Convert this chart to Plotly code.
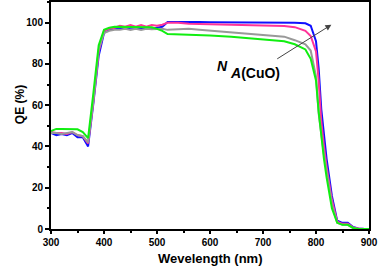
import plotly.graph_objects as go

wavelength = [300,310,320,330,340,350,360,370,380,390,400,410,420,430,440,450,460,470,480,490,500,510,520,540,560,580,600,640,680,720,740,760,780,790,800,805,810,815,820,830,840,850,860,870,880,890,900]

qe_blue = [46.5,45.5,46,45.5,46.5,44.5,44.5,40,61,84,95,96.5,97,97.5,97,97.5,97.5,97,97.5,97,97.5,98,100.3,100.4,100.3,100.3,100.2,100.2,100.1,100,100,99.9,99.7,98.5,91,78,58,45,34,16,4,3,3,1,0.3,0.1,0]
qe_pink = [47,46.5,46.5,46,47,45.5,45,41.5,62,86,96,97,97.5,98.5,98,98.8,98,98.8,98,98.8,98.5,99,100,100,99.5,99.4,99.3,99.1,98.9,98.7,98.4,97.8,96,93.5,86,72,52,40,30,14,3.5,2.5,2.5,0.8,0.2,0,0]
qe_gray = [46.5,46.5,46,46.5,47,45.5,45,42,62.5,87,95,96,96.5,96.5,97,96.5,97,96.5,97,96.8,97,97,96.5,96.8,97,96.6,96.2,95.5,94.6,93.8,93.2,91.5,89.5,86.5,74,56,45,36,28,12,3,2,2,0.5,0,0,0]
qe_green = [47.5,48.5,48.5,48.5,48.5,48.3,47,44,66,89,96.5,97.5,98,98,98,98,98,98,98,97.8,97,96,94.5,94.4,94.2,94,93.8,93.2,92.4,91.5,91,89.5,87,82.5,72,57,45,34,25,10,3,2,2,0.5,0,0,0]

series = [
    ("blue", qe_blue, "#1010ff"),
    ("pink", qe_pink, "#ff3399"),
    ("gray", qe_gray, "#999999"),
    ("green", qe_green, "#11ee11"),
]

fig = go.Figure()
for name, vals, col in series:
    fig.add_trace(go.Scatter(x=wavelength, y=vals, mode="lines", name=name,
                             line=dict(color=col, width=2), showlegend=False))

tickfont = dict(family="Liberation Sans, Arial", size=10, color="black", weight="bold")

fig.update_layout(
    width=380, height=267,
    margin=dict(l=51, r=11, t=2, b=38, autoexpand=False),
    paper_bgcolor="white", plot_bgcolor="white",
    font=dict(family="Liberation Sans, Arial", color="black"),
)
fig.update_xaxes(
    range=[300, 900], dtick=100, tick0=300, automargin=False,
    showline=True, linecolor="black", linewidth=2, mirror=True,
    ticks="outside", ticklen=3, tickwidth=1.5, tickcolor="black",
    minor=dict(ticks="outside", dtick=50, ticklen=2, tickwidth=1.5, tickcolor="black"),
    showgrid=False, zeroline=False, tickfont=tickfont,
)
fig.update_yaxes(
    range=[0, 110], tickvals=[0, 20, 40, 60, 80, 100], automargin=False,
    showline=True, linecolor="black", linewidth=2, mirror=True,
    ticks="outside", ticklen=4, tickwidth=1.5, tickcolor="black",
    minor=dict(ticks="outside", tickvals=[10, 30, 50, 70, 90, 110], ticklen=2, tickwidth=1.5, tickcolor="black"),
    showgrid=False, zeroline=False, tickfont=tickfont,
)

# axis titles
fig.add_annotation(text="<b>Wevelength (nm)</b>", xref="paper", yref="paper", x=0.5, y=0,
                   yshift=-29, yanchor="middle", showarrow=False,
                   font=dict(size=13, family="Liberation Sans, Arial", color="black"))
fig.add_annotation(text="<b>QE (%)</b>", xref="paper", yref="y", x=0, y=60,
                   xshift=-40, textangle=-90, showarrow=False,
                   font=dict(size=12, family="Liberation Sans, Arial", color="black"))

# arrow
fig.add_annotation(x=829, y=99, ax=724, ay=82, xref="x", yref="y", axref="x", ayref="y",
                   text="", showarrow=True, arrowhead=2, arrowsize=1.2, arrowwidth=1,
                   arrowcolor="#444444")
# label N_A(CuO)
fig.add_annotation(text="<b><i>N</i></b>", x=624, y=79, xref="x", yref="y",
                   showarrow=False, font=dict(size=14, family="Liberation Sans, Arial", color="black"))
fig.add_annotation(text="<b><i>A</i>(CuO)</b>", x=685, y=75.6, xref="x", yref="y",
                   showarrow=False, font=dict(size=14, family="Liberation Sans, Arial", color="black"))

fig.write_html("out.html", config={"displayModeBar": False},
               post_script="document.body.style.margin='0';document.body.style.overflow='hidden';")
